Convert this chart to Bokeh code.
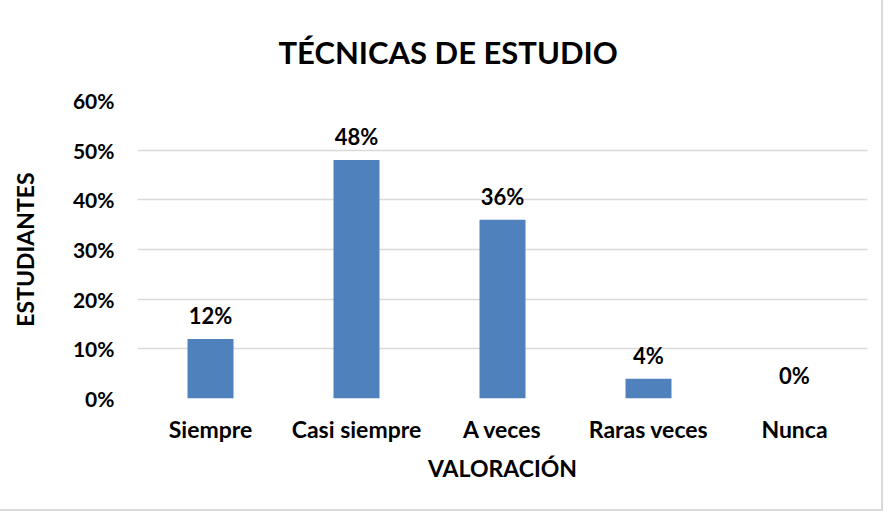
from bokeh.plotting import figure
from bokeh.models import ColumnDataSource, NumeralTickFormatter, LabelSet, FixedTicker
from bokeh.core.properties import value
from bokeh.embed import file_html
from bokeh.resources import INLINE

categories = ["Siempre", "Casi siempre", "A veces", "Raras veces", "Nunca"]
values = [0.12, 0.48, 0.36, 0.04, 0.00]
labels = ["12%", "48%", "36%", "4%", "0%"]
yticks = [0, 0.1, 0.2, 0.3, 0.4, 0.5, 0.6]

FONT = "Lato"
src = ColumnDataSource(dict(cat=categories, val=values, lab=labels))

p = figure(x_range=categories, y_range=(0, 0.6), width=881, height=509,
           output_backend="svg", toolbar_location=None,
           title="TÉCNICAS DE ESTUDIO",
           min_border_left=137, min_border_right=14, min_border_top=99, min_border_bottom=111)
p.x_range.range_padding = 0
p.styles = {"outline": "2px solid #d9d9d9"}
p.outline_line_color = None
p.background_fill_color = "white"

p.title.align = "left"
p.title.offset = 141
p.title.text_font = FONT
p.title.text_font_style = "bold"
p.title.text_font_size = "31px"
p.title.text_color = "black"
p.title.standoff = 60

p.vbar(x="cat", top="val", width=0.315, source=src, fill_color="#4F81BD", line_color=None)

p.add_layout(LabelSet(x="cat", y="val", text="lab", source=src, y_offset=15,
                      text_align="center", text_baseline="alphabetic",
                      text_font=value(FONT), text_font_style="bold",
                      text_font_size="22px", text_color="black"))

p.yaxis.ticker = FixedTicker(ticks=yticks)
p.yaxis.formatter = NumeralTickFormatter(format="0%")
for ax in (p.xaxis[0], p.yaxis[0]):
    ax.axis_line_color = None
    ax.major_tick_line_color = None
    ax.minor_tick_line_color = None
    ax.major_label_text_font = FONT
    ax.major_label_text_font_style = "bold"
    ax.major_label_text_color = "black"
    ax.axis_label_text_font = FONT
    ax.axis_label_text_font_style = "bold"
    ax.axis_label_text_font_size = "23px"
    ax.axis_label_text_color = "black"
p.xaxis.major_label_text_font_size = "23px"
p.yaxis.major_label_text_font_size = "21px"

p.xaxis.axis_label = "VALORACIÓN"
p.yaxis.axis_label = "ESTUDIANTES"
p.xaxis.major_label_standoff = 10
p.xaxis.axis_label_standoff = 8
p.yaxis.major_label_standoff = 17
p.yaxis.axis_label_standoff = 31

p.xgrid.grid_line_color = None
p.ygrid.grid_line_color = "#d9d9d9"
p.ygrid.grid_line_width = 1.5

open("out.html", "w").write(file_html(p, INLINE))
